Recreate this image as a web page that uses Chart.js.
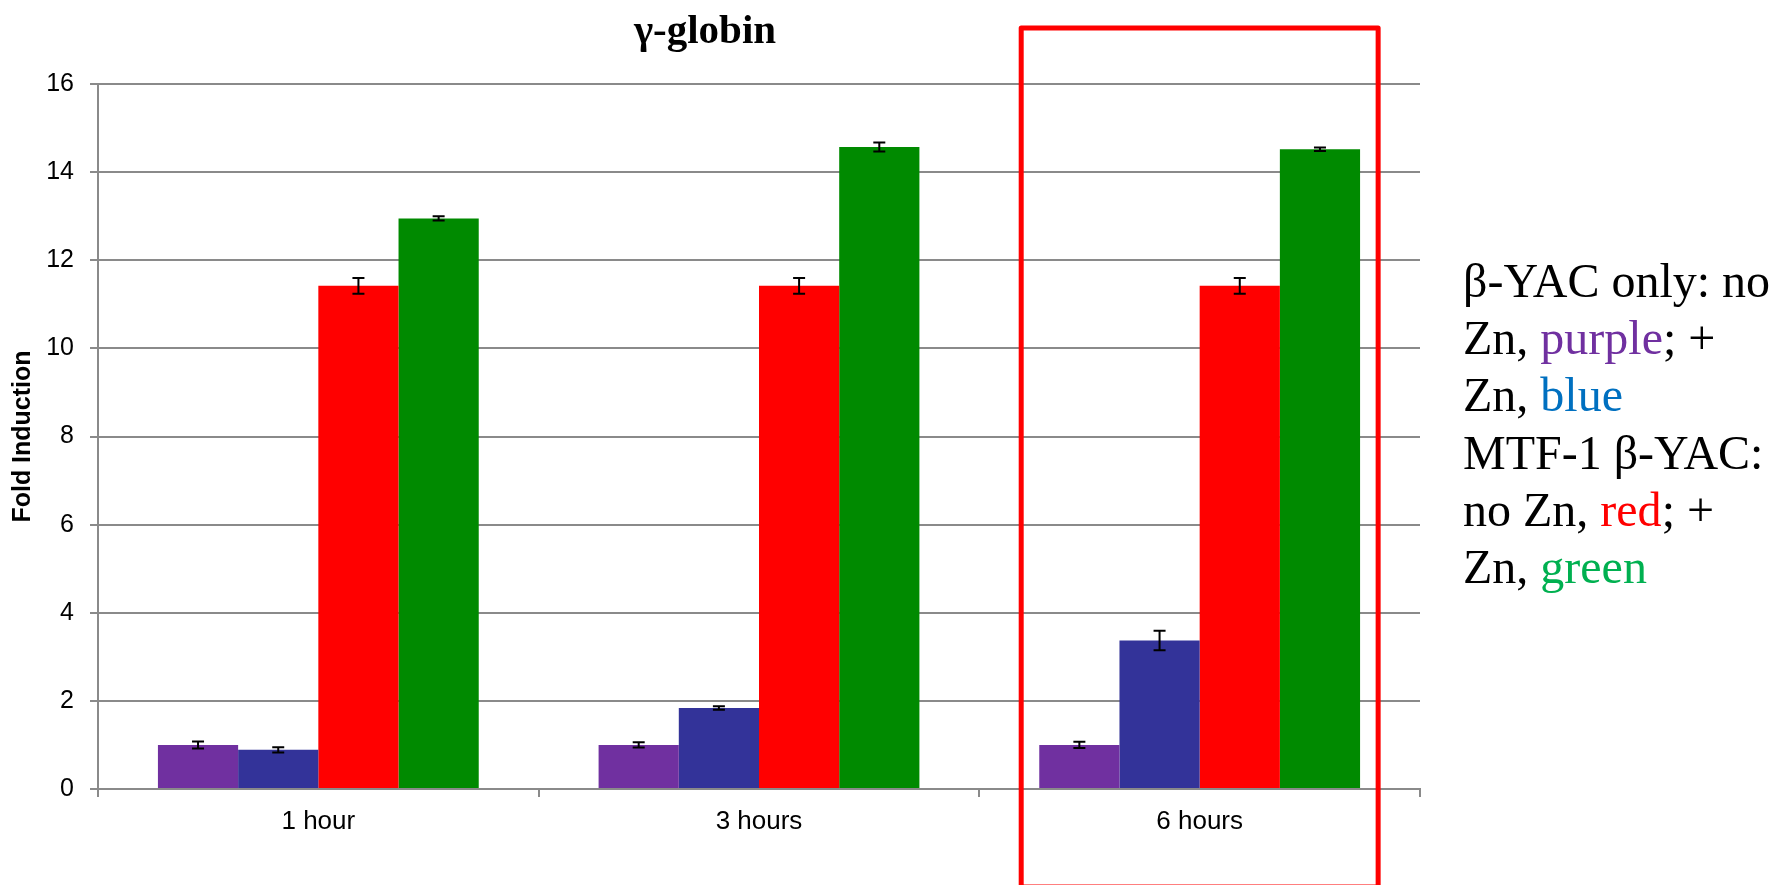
<!DOCTYPE html>
<html>
<head>
<meta charset="utf-8">
<script src="https://cdn.jsdelivr.net/npm/chart.js@4.4.1/dist/chart.umd.min.js"></script>
<style>
  body { margin: 0; background: #fff; }
  #wrap { position: relative; width: 1788px; height: 885px; }
  #note {
    position: absolute; left: 1463px; top: 252px;
    font-family: "Liberation Serif", "Times New Roman", serif;
    font-size: 48px; line-height: 57.2px; color: #000; white-space: nowrap;
  }
</style>
</head>
<body>
<div id="wrap">
  <canvas id="myChart" width="1788" height="885"></canvas>
  <div id="note">
    β-YAC only: no<br>
    Zn, <span style="color:#7030A0">purple</span>; +<br>
    Zn, <span style="color:#0070C0">blue</span><br>
    MTF-1 β-YAC:<br>
    no Zn, <span style="color:#FF0000">red</span>; +<br>
    Zn, <span style="color:#00B050">green</span>
  </div>
</div>
<script>
// time points
const categories = ['1 hour', '3 hours', '6 hours'];
// fold induction
const yacNoZn = [1.0, 1.0, 1.0];
const yacZn = [0.89, 1.84, 3.37];
const mtfNoZn = [11.42, 11.42, 11.42];
const mtfZn = [12.95, 14.57, 14.52];
// error bar half heights
const yacNoZnErr = [0.08, 0.06, 0.07];
const yacZnErr = [0.06, 0.04, 0.22];
const mtfNoZnErr = [0.18, 0.18, 0.18];
const mtfZnErr = [0.05, 0.1, 0.04];
// y axis ticks
const yTicks = [0, 2, 4, 6, 8, 10, 12, 14, 16];

const gridGray = '#8A8A8A';

// error bars on top of each bar
const errorBars = {
  id: 'errorBars',
  afterDatasetsDraw(chart) {
    const ctx = chart.ctx;
    const y = chart.scales.y;
    ctx.save();
    ctx.strokeStyle = '#000';
    ctx.lineWidth = 2;
    chart.data.datasets.forEach((ds, i) => {
      chart.getDatasetMeta(i).data.forEach((bar, j) => {
        const v = ds.data[j], e = ds.err[j];
        const top = y.getPixelForValue(v + e);
        const bot = y.getPixelForValue(v - e);
        ctx.beginPath();
        ctx.moveTo(bar.x, top); ctx.lineTo(bar.x, bot);
        ctx.moveTo(bar.x - 6, top); ctx.lineTo(bar.x + 6, top);
        ctx.moveTo(bar.x - 6, bot); ctx.lineTo(bar.x + 6, bot);
        ctx.stroke();
      });
    });
    ctx.restore();
  }
};

// title and the red box round the last time point
const extras = {
  id: 'extras',
  afterDraw(chart) {
    const ctx = chart.ctx;
    const x = chart.scales.x;
    const area = chart.chartArea;
    ctx.save();
    ctx.fillStyle = '#000';
    ctx.font = 'bold 41px "Liberation Serif"';
    ctx.textAlign = 'center';
    ctx.textBaseline = 'alphabetic';
    ctx.fillText('γ-globin', 705, 43);

    const cw = x.getPixelForValue(1) - x.getPixelForValue(0);
    const cx = x.getPixelForValue(categories.length - 1);
    ctx.strokeStyle = '#FF0000';
    ctx.lineWidth = 5;
    ctx.lineJoin = 'round';
    ctx.strokeRect(cx - cw * 0.405, area.top - 56, cw * 0.81, chart.height - area.top + 58);
    ctx.restore();
  }
};

const ctx = document.getElementById('myChart').getContext('2d');
const chart = new Chart(ctx, {
  type: 'bar',
  data: {
    labels: categories,
    datasets: [
      { label: 'β-YAC only, no Zn', data: yacNoZn, err: yacNoZnErr, backgroundColor: '#7030A0' },
      { label: 'β-YAC only, + Zn', data: yacZn, err: yacZnErr, backgroundColor: '#333399' },
      { label: 'MTF-1 β-YAC, no Zn', data: mtfNoZn, err: mtfNoZnErr, backgroundColor: '#FF0000' },
      { label: 'MTF-1 β-YAC, + Zn', data: mtfZn, err: mtfZnErr, backgroundColor: '#008A00' }
    ]
  },
  options: {
    responsive: false,
    animation: false,
    categoryPercentage: 0.728,
    barPercentage: 1.0,
    layout: { padding: { top: 84, right: 368, bottom: 0, left: 0 } },
    plugins: {
      legend: { display: false },
      title: { display: false },
      tooltip: { enabled: false }
    },
    scales: {
      x: {
        afterFit(scale) { scale.height = 96; },
        grid: { offset: true, drawOnChartArea: false, tickLength: 8, color: gridGray, lineWidth: 2 },
        border: { display: true, color: gridGray, width: 2 },
        ticks: { color: '#000', padding: 9, font: { family: 'Liberation Sans', size: 26 } }
      },
      y: {
        min: 0,
        max: 16,
        afterFit(scale) { scale.width = 98; },
        afterBuildTicks(scale) { scale.ticks = yTicks.map(v => ({ value: v })); },
        grid: { color: gridGray, lineWidth: 2, tickLength: 8 },
        border: { display: true, color: gridGray, width: 2 },
        ticks: { color: '#000', padding: 16, font: { family: 'Liberation Sans', size: 25 } },
        title: {
          display: true,
          text: 'Fold Induction',
          color: '#000',
          padding: { top: 8, bottom: 0 },
          font: { family: 'Liberation Sans', size: 25, weight: 'bold' }
        }
      }
    }
  },
  plugins: [errorBars, extras]
});
</script>
</body>
</html>
